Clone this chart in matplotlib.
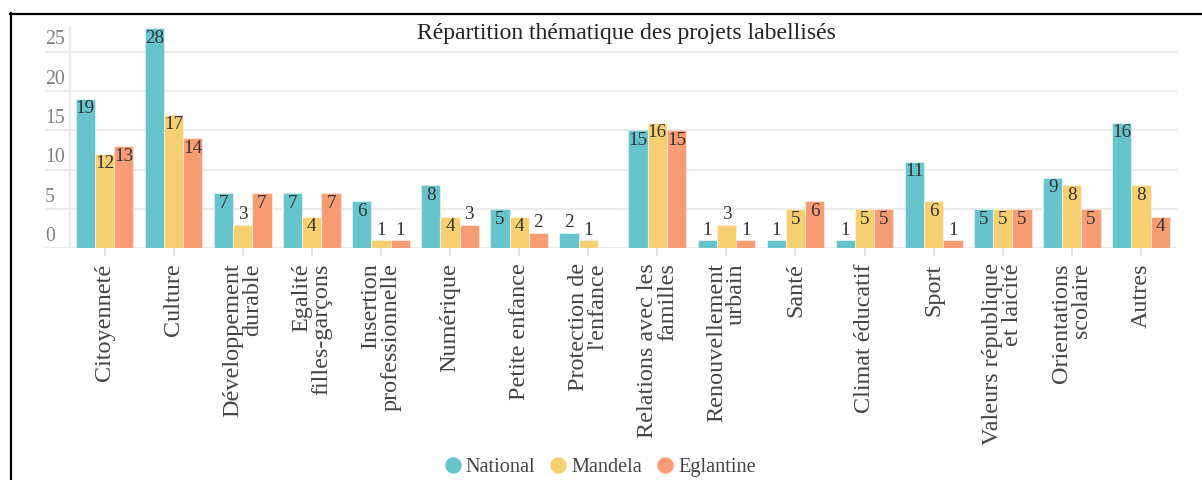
import matplotlib
matplotlib.use("Agg")
import matplotlib.pyplot as plt
from matplotlib.lines import Line2D
from matplotlib.transforms import blended_transform_factory, ScaledTranslation
import numpy as np

# ---- data -------------------------------------------------------------
categories = [
    "Citoyenneté", "Culture", "Développement\ndurable", "Egalité\nfilles-garçons",
    "Insertion\nprofessionnelle", "Numérique", "Petite enfance", "Protection de\nl'enfance",
    "Relations avec les\nfamilles", "Renouvellement\nurbain", "Santé", "Climat éducatif",
    "Sport", "Valeurs république\net laicité", "Orientations\nscolaire", "Autres",
]
national = [19, 28, 7, 7, 6, 8, 5, 2, 15, 1, 1, 1, 11, 5, 9, 16]
mandela = [12, 17, 3, 4, 1, 4, 4, 1, 16, 3, 5, 5, 6, 5, 8, 8]
eglantine = [13, 14, 7, 7, 1, 3, 2, 0, 15, 1, 6, 5, 1, 5, 5, 4]
series_names = ["National", "Mandela", "Eglantine"]
yticks = [0, 5, 10, 15, 20, 25]
title = "Répartition thématique des projets labellisés"

# ---- style ------------------------------------------------------------
colors = ["#66C5CC", "#F6CF71", "#F89C74"]
SERIF = ["Liberation Serif", "DejaVu Serif"]
W, H, DPI = 1202, 480, 100

fig = plt.figure(figsize=(W / DPI, H / DPI), dpi=DPI)
fig.patch.set_facecolor("white")

# axes box in pixels
ax_l, ax_r, ax_b, ax_t = 45, 1177, 248.3, 26
ax = fig.add_axes([ax_l / W, 1 - ax_b / H, (ax_r - ax_l) / W, (ax_b - ax_t) / H])

n = len(categories)
x = np.arange(n)
bw = 0.278
step = 69.07  # pixels per category
ax.set_xlim(-(104.5 - ax_l) / step, (n - 1) + (ax_r - 1141) / step)
ax.set_ylim(0, (ax_b - ax_t) / 7.86)

for s in ax.spines.values():
    s.set_visible(False)
ax.set_yticks(yticks)
ax.tick_params(axis="y", length=0, labelleft=False)
ax.grid(axis="y", color="#ebebeb", lw=1.6)
ax.set_axisbelow(True)
ax.axvline(-0.5, color="#ebebeb", lw=1.6, zorder=0)

# y tick labels: left aligned, sitting above each grid line
ytrans = blended_transform_factory(ax.transAxes, ax.transData) + \
    ScaledTranslation(0, 12 / DPI, fig.dpi_scale_trans)
for v in yticks:
    ax.text(0, v, str(v), transform=ytrans, ha="left", va="center",
            fontsize=14.2, color="#808080", family=SERIF)

# bars and value labels
all_series = [national, mandela, eglantine]
for i, (vals, col, name) in enumerate(zip(all_series, colors, series_names)):
    xs = x + (i - 1) * bw
    ax.bar(xs, vals, width=bw, color=col, edgecolor=(1, 1, 1, 0.45),
           linewidth=0.8, label=name, zorder=2)
    for xi, v in zip(xs, vals):
        if v == 0:
            continue
        off = -10 if v >= 4 else 10
        ax.annotate(str(v), (xi, v), xytext=(0, off * 72 / DPI),
                    textcoords="offset points", ha="center", va="center",
                    fontsize=13.8, color="#333333", family=SERIF, zorder=3)

# category labels
ax.set_xticks(x)
ax.set_xticklabels(categories, rotation=90, ha="center", va="top",
                   multialignment="right", fontsize=17.4, color="#444444",
                   family=SERIF, linespacing=0.95)
ax.tick_params(axis="x", length=5.8, width=1.2, color="#e0e0e0", pad=5)

# title
fig.text(626.5 / W, 1 - 33 / H, title, ha="center", va="center",
         fontsize=17, color="#222222", family=SERIF)

# legend
handles = [Line2D([], [], ls="none", marker="o", ms=10.8, color=c, mec=c)
           for c in colors]
fig.legend(handles, series_names, loc="center", bbox_to_anchor=(600.5 / W, 1 - 467 / H),
           ncol=3, frameon=False, handlelength=0.75, handletextpad=0.27,
           columnspacing=0.76, borderpad=0, borderaxespad=0,
           prop={"family": SERIF, "size": 14.6}, labelcolor="#444444")

# document frame
fig.add_artist(Line2D([10 / W, 1], [1 - 14 / H, 1 - 14 / H], transform=fig.transFigure,
                      color="black", lw=1.6))
fig.add_artist(Line2D([11 / W, 11 / W], [0, 1 - 13 / H], transform=fig.transFigure,
                      color="black", lw=1.6))

fig.savefig("out.png", dpi=DPI)
